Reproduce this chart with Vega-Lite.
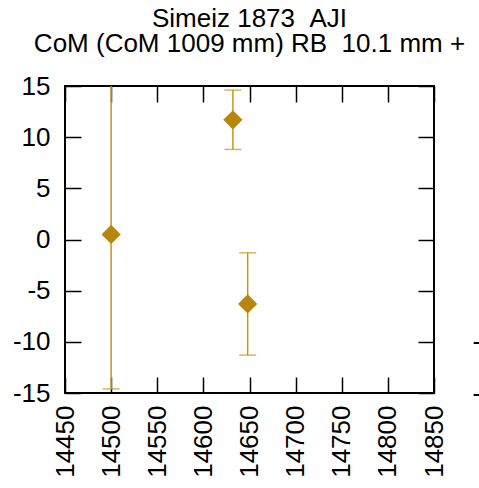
{
  "$schema": "https://vega.github.io/schema/vega-lite/v6.json",
  "width": 369,
  "height": 307,
  "autosize": {"type": "none"},
  "padding": {"left": 65, "top": 86, "right": 45, "bottom": 95},
  "background": "white",
  "title": {
    "text": ["Simeiz 1873 \u00a0AJI", "CoM (CoM 1009 mm) RB \u00a010.1 mm +"],
    "font": "Liberation Sans",
    "fontSize": 26,
    "fontWeight": "normal",
    "color": "black",
    "lineHeight": 25,
    "anchor": "middle",
    "offset": 16
  },
  "data": {
    "values": [
      {"x": 14500, "y": 0.5, "lo": -14.6, "hi": 15.6},
      {"x": 14632, "y": 11.7, "lo": 8.8, "hi": 14.6},
      {"x": 14648, "y": -6.3, "lo": -11.3, "hi": -1.3}
    ]
  },
  "config": {
    "view": {"stroke": "black", "strokeWidth": 2},
    "axis": {
      "labelFont": "Liberation Sans",
      "labelFontSize": 26,
      "labelColor": "black",
      "tickColor": "black",
      "tickWidth": 1.5,
      "tickSize": -16,
      "domain": false,
      "grid": false,
      "title": null,
      "labelOverlap": false,
      "labelBound": false,
      "labelFlush": false
    }
  },
  "resolve": {"axis": {"x": "independent", "y": "independent"}},
  "layer": [
    {
      "mark": {"type": "rule", "clip": true, "color": "#c8961e", "strokeWidth": 1.5},
      "encoding": {
        "x": {"field": "x", "type": "quantitative",
              "scale": {"domain": [14450, 14850], "nice": false, "zero": false},
              "axis": {"orient": "bottom", "values": [14450, 14500, 14550, 14600, 14650, 14700, 14750, 14800, 14850],
                       "labelAngle": -90, "labelAlign": "right", "labelBaseline": "middle", "labelPadding": 28, "format": "d"}},
        "y": {"field": "lo", "type": "quantitative",
              "scale": {"domain": [-15, 15], "nice": false, "zero": false},
              "axis": {"orient": "left", "values": [-15, -10, -5, 0, 5, 10, 15], "labelPadding": 31,
                       "labelExpr": "datum.value + ''"}},
        "y2": {"field": "hi"}
      }
    },
    {
      "mark": {"type": "tick", "orient": "horizontal", "clip": true, "color": "#c8961e", "size": 17, "thickness": 1.5},
      "encoding": {
        "x": {"field": "x", "type": "quantitative", "axis": null},
        "y": {"field": "lo", "type": "quantitative", "axis": null}
      }
    },
    {
      "mark": {"type": "tick", "orient": "horizontal", "clip": true, "color": "#c8961e", "size": 17, "thickness": 1.5},
      "encoding": {
        "x": {"field": "x", "type": "quantitative", "axis": null},
        "y": {"field": "hi", "type": "quantitative", "axis": null}
      }
    },
    {
      "mark": {"type": "point", "shape": "diamond", "filled": true, "size": 370, "color": "#b8860b", "opacity": 1},
      "encoding": {
        "x": {"field": "x", "type": "quantitative", "axis": null},
        "y": {"field": "y", "type": "quantitative", "axis": null}
      }
    },
    {
      "mark": {"type": "point", "opacity": 0},
      "encoding": {
        "x": {"field": "x", "type": "quantitative",
              "axis": {"orient": "top", "labels": false, "values": [14450, 14500, 14550, 14600, 14650, 14700, 14750, 14800, 14850]}},
        "y": {"field": "y", "type": "quantitative",
              "axis": {"orient": "right", "values": [-15, -10, -5, 0, 5, 10, 15], "labelAlign": "left", "labelPadding": 54,
                       "labelExpr": "datum.value <= -10 ? datum.value + '' : ''"}}
      }
    }
  ]
}
